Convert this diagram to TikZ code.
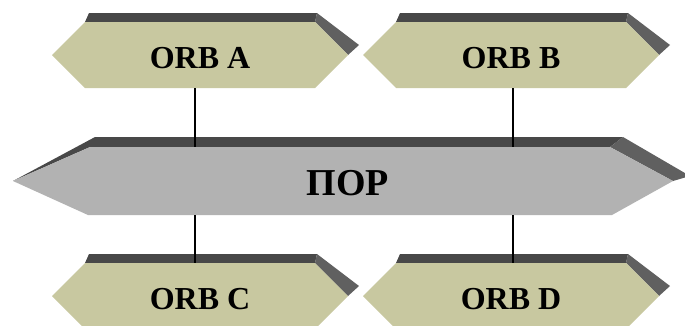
\documentclass[tikz,border=0pt]{standalone}
\usepackage{fontspec}
\setmainfont{Liberation Serif}
\definecolor{orbface}{RGB}{200,200,160}
\definecolor{busface}{RGB}{178,178,178}
\definecolor{darkbar}{RGB}{72,72,72}
\definecolor{darkbevel}{RGB}{96,96,96}
\tikzset{
  barfill/.style={fill=darkbar},
  bevelfill/.style={fill=darkbevel},
  orbfill/.style={fill=orbface},
  busfill/.style={fill=busface},
  orblabel/.style={font=\fontsize{32}{32}\selectfont\bfseries, inner sep=0pt},
  buslabel/.style={font=\fontsize{38}{38}\selectfont\bfseries, inner sep=0pt},
  link/.style={draw=black, line width=2.4pt}
}
\newcommand\orbbox[4]{%
  \fill[barfill] (#2-111,#3-42) -- (#2+117,#3-42) -- (#2+115,#3-33) -- (#2-115,#3-33) -- cycle;
  \fill[bevelfill] (#2+115,#3-33) -- (#2+117,#3-42) -- (#2+159,#3-10) -- (#2+148,#3) -- cycle;
  \fill[orbfill] (#2-148,#3) -- (#2-115,#3-33) -- (#2+115,#3-33) -- (#2+148,#3) -- (#2+115,#3+33) -- (#2-115,#3+33) -- cycle;
  \node[orblabel] (#1) at (#2,#3+3) {#4};
}
\begin{document}
\begin{tikzpicture}[x=1pt,y=-1pt]
\useasboundingbox (0,0) rectangle (685,325);
\clip (0,0) rectangle (685,325);
\fill[white] (0,0) rectangle (685,325);
% boxes
\orbbox{A}{200}{55}{ORB A}
\orbbox{B}{511}{55}{ORB B}
\orbbox{C}{200}{296}{ORB C}
\orbbox{D}{511}{296}{ORB D}
% central bus
\fill[barfill] (13,181) -- (95,137) -- (623,137) -- (610,147) -- (90,147) -- cycle;
\fill[bevelfill] (610,147) -- (623,137) -- (690,176) -- (673,181) -- cycle;
\fill[busfill] (13,181) -- (90,147) -- (610,147) -- (673,181) -- (612,215) -- (88,215) -- cycle;
\node[buslabel] (P) at (348,183) {ПОР};
% connector ends
\coordinate (Aout) at (195,88);
\coordinate (PinA) at (195,147);
\coordinate (Bout) at (513,88);
\coordinate (PinB) at (513,147);
\coordinate (PoutC) at (195,215);
\coordinate (Cin) at (195,263);
\coordinate (PoutD) at (513,215);
\coordinate (Din) at (513,263);
\draw[link] (Aout) -- (PinA);
\draw[link] (Bout) -- (PinB);
\draw[link] (PoutC) -- (Cin);
\draw[link] (PoutD) -- (Din);
\end{tikzpicture}
\end{document}
